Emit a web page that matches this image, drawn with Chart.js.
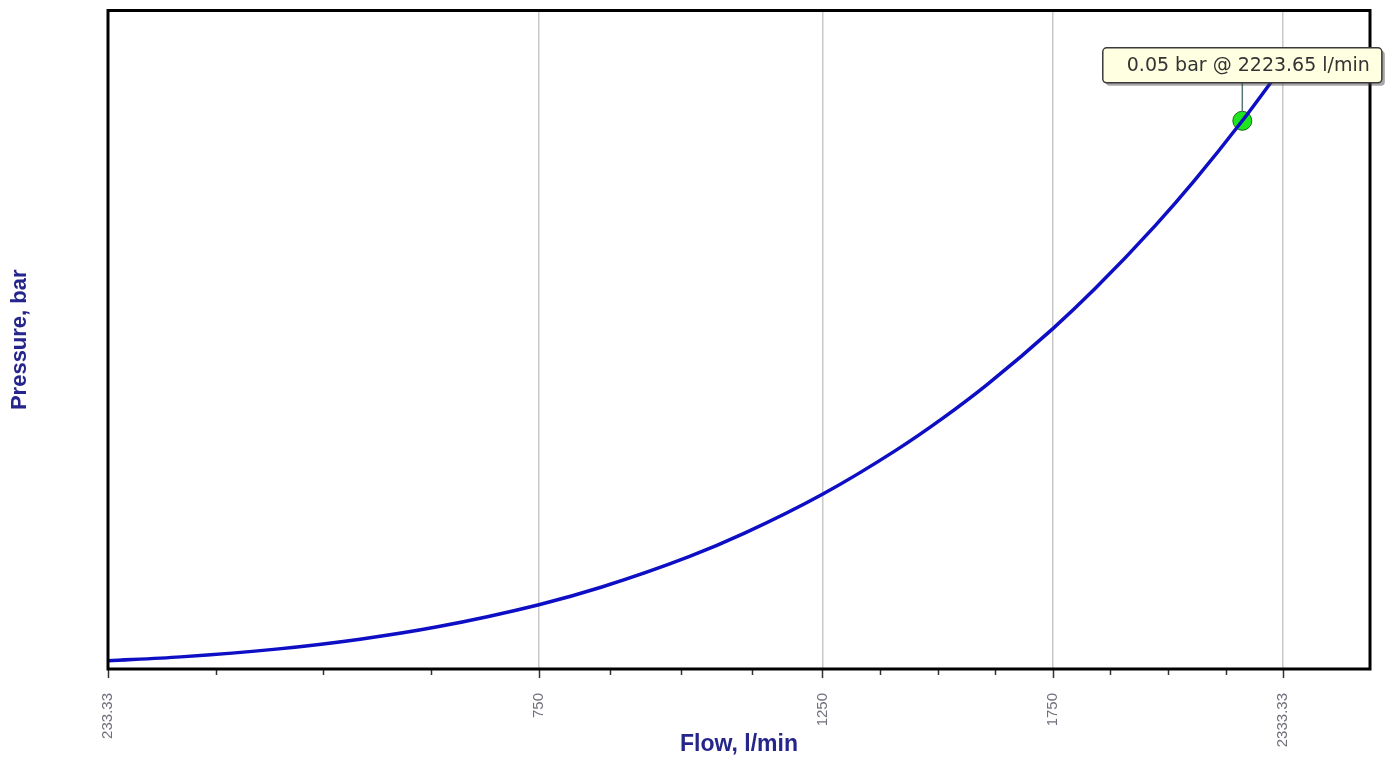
<!DOCTYPE html>
<html>
<head>
<meta charset="utf-8">
<title>Pressure vs Flow</title>
<script src="https://cdn.jsdelivr.net/npm/chart.js@4.4.1/dist/chart.umd.min.js"></script>
<style>
  html, body { margin: 0; padding: 0; background: #fff; }
  #wrap { width: 1398px; height: 762px; }
</style>
</head>
<body>
<div id="wrap"><canvas id="pumpChart" width="1398" height="762"></canvas></div>
<script>
// Flow (l/min) and pressure (bar) along the curve
const flowValues = [233.33, 300, 400, 500, 600, 750, 850, 1000, 1100, 1250, 1400, 1500, 1600, 1750, 1850, 2000, 2100, 2223.65, 2333.33];
const pressureValues = [0.00055, 0.00091, 0.00162, 0.00253, 0.00364, 0.00569, 0.00731, 0.01011, 0.01224, 0.0158, 0.01982, 0.02275, 0.02589, 0.03097, 0.03461, 0.04045, 0.04459, 0.05, 0.05505];

// Major x ticks and their labels
const flowTicks = [233.33, 750, 1250, 1750, 2333.33];
const flowTickLabels = ['233.33', '750', '1250', '1750', '2333.33'];

// Selected operating point
const markerFlow = 2223.65;
const markerPressure = 0.05;

// x axis spaced on the square root of flow
class SqrtScale extends Chart.LinearScale {
  buildTicks() {
    super.buildTicks();
    const ticks = [];
    flowTicks.forEach((v, i) => {
      ticks.push({ value: v, major: true });
      const next = flowTicks[i + 1];
      if (next === undefined) return;
      const a = Math.sqrt(v), b = Math.sqrt(next);
      for (let k = 1; k <= 3; k++) {
        const s = a + (b - a) * k / 4;
        ticks.push({ value: s * s, major: false });
      }
    });
    return ticks;
  }
  getPixelForValue(value) {
    const s0 = Math.sqrt(this.min), s1 = Math.sqrt(this.max);
    return this.getPixelForDecimal((Math.sqrt(Math.max(value, 0)) - s0) / (s1 - s0));
  }
  getValueForPixel(pixel) {
    const s0 = Math.sqrt(this.min), s1 = Math.sqrt(this.max);
    const s = s0 + this.getDecimalForPixel(pixel) * (s1 - s0);
    return s * s;
  }
}
SqrtScale.id = 'sqrt';
SqrtScale.defaults = Chart.LinearScale.defaults;
Chart.register(SqrtScale);

// frame, tick marks and the callout for the selected point
const decorations = {
  id: 'decorations',
  afterDraw(chart) {
    const { ctx, chartArea: area } = chart;
    const xScale = chart.scales.x;
    ctx.save();

    // tick marks under the axis
    ctx.strokeStyle = '#333';
    ctx.lineWidth = 1.5;
    xScale.ticks.forEach(t => {
      const px = Math.round(xScale.getPixelForValue(t.value)) + 0.5;
      ctx.beginPath();
      ctx.moveTo(px, area.bottom);
      ctx.lineTo(px, area.bottom + (t.major ? 9 : 6));
      ctx.stroke();
    });

    // plot frame
    ctx.strokeStyle = '#000';
    ctx.lineWidth = 3;
    ctx.strokeRect(area.left, area.top, area.right - area.left, area.bottom - area.top);

    // callout
    const pt = chart.getDatasetMeta(1).data[0];
    const text = markerPressure.toFixed(2) + ' bar @ ' + markerFlow.toFixed(2) + ' l/min';
    ctx.font = '19px "DejaVu Sans", sans-serif';
    const tw = ctx.measureText(text).width;
    const boxW = tw + 36;
    const boxH = 35;
    const boxX = pt.x - boxW / 2;
    const boxY = pt.y - 73;

    ctx.strokeStyle = '#587878';
    ctx.lineWidth = 1.5;
    ctx.beginPath();
    ctx.moveTo(pt.x, boxY + boxH);
    ctx.lineTo(pt.x, pt.y - 9);
    ctx.stroke();

    const rr = (x, y, w, h, r) => {
      ctx.beginPath();
      ctx.moveTo(x + r, y);
      ctx.arcTo(x + w, y, x + w, y + h, r);
      ctx.arcTo(x + w, y + h, x, y + h, r);
      ctx.arcTo(x, y + h, x, y, r);
      ctx.arcTo(x, y, x + w, y, r);
      ctx.closePath();
    };
    ctx.fillStyle = 'rgba(60,60,60,0.45)';
    rr(boxX + 3, boxY + 3, boxW, boxH, 4);
    ctx.fill();
    ctx.fillStyle = '#ffffe1';
    rr(boxX, boxY, boxW, boxH, 4);
    ctx.fill();
    ctx.strokeStyle = '#3a3a3a';
    ctx.lineWidth = 1.5;
    ctx.stroke();

    ctx.fillStyle = '#333';
    ctx.textBaseline = 'middle';
    ctx.textAlign = 'left';
    ctx.fillText(text, boxX + 24, boxY + boxH / 2 + 1);
    ctx.restore();
  }
};

const curvePoints = flowValues.map((q, i) => ({ x: q, y: pressureValues[i] }));

new Chart(document.getElementById('pumpChart'), {
  type: 'line',
  data: {
    datasets: [
      {
        data: curvePoints,
        borderColor: '#0e0ec4',
        borderWidth: 3.5,
        pointRadius: 0,
        cubicInterpolationMode: 'monotone',
        fill: false
      },
      {
        data: [{ x: markerFlow, y: markerPressure }],
        showLine: false,
        pointRadius: 9.5,
        pointBackgroundColor: '#1ee61e',
        pointBorderColor: '#1a6a1a',
        pointBorderWidth: 1
      }
    ]
  },
  options: {
    responsive: false,
    animation: false,
    layout: { padding: { top: 7, right: 28, left: 0, bottom: 0 } },
    plugins: { legend: { display: false }, tooltip: { enabled: false } },
    scales: {
      x: {
        type: 'sqrt',
        min: 233.33,
        max: 2575,
        afterFit: scale => { scale.height = 93; },
        grid: {
          drawTicks: false,
          lineWidth: 1.5,
          color: c => (c.tick && c.tick.major ? '#c8c8c8' : 'rgba(0,0,0,0)')
        },
        border: { display: false },
        ticks: {
          autoSkip: false,
          minRotation: 90,
          maxRotation: 90,
          padding: 24,
          color: '#70707c',
          font: { family: '"Liberation Sans", Arial, sans-serif', size: 15 },
          callback: value => {
            const i = flowTicks.indexOf(value);
            return i >= 0 ? flowTickLabels[i] : '';
          }
        },
        title: {
          display: true,
          text: 'Flow, l/min',
          color: '#25258c',
          font: { family: '"Liberation Sans", Arial, sans-serif', size: 23, weight: 'bold' },
          padding: { top: 0, bottom: 4 }
        }
      },
      y: {
        min: -0.0002,
        max: 0.0601,
        afterFit: scale => { scale.width = 108; },
        grid: { display: false },
        border: { display: false },
        ticks: { display: false },
        title: {
          display: true,
          text: 'Pressure, bar',
          color: '#25258c',
          font: { family: '"Liberation Sans", Arial, sans-serif', size: 22, weight: 'bold' },
          padding: { top: 7, bottom: 0 }
        }
      }
    }
  },
  plugins: [decorations]
});
</script>
</body>
</html>
